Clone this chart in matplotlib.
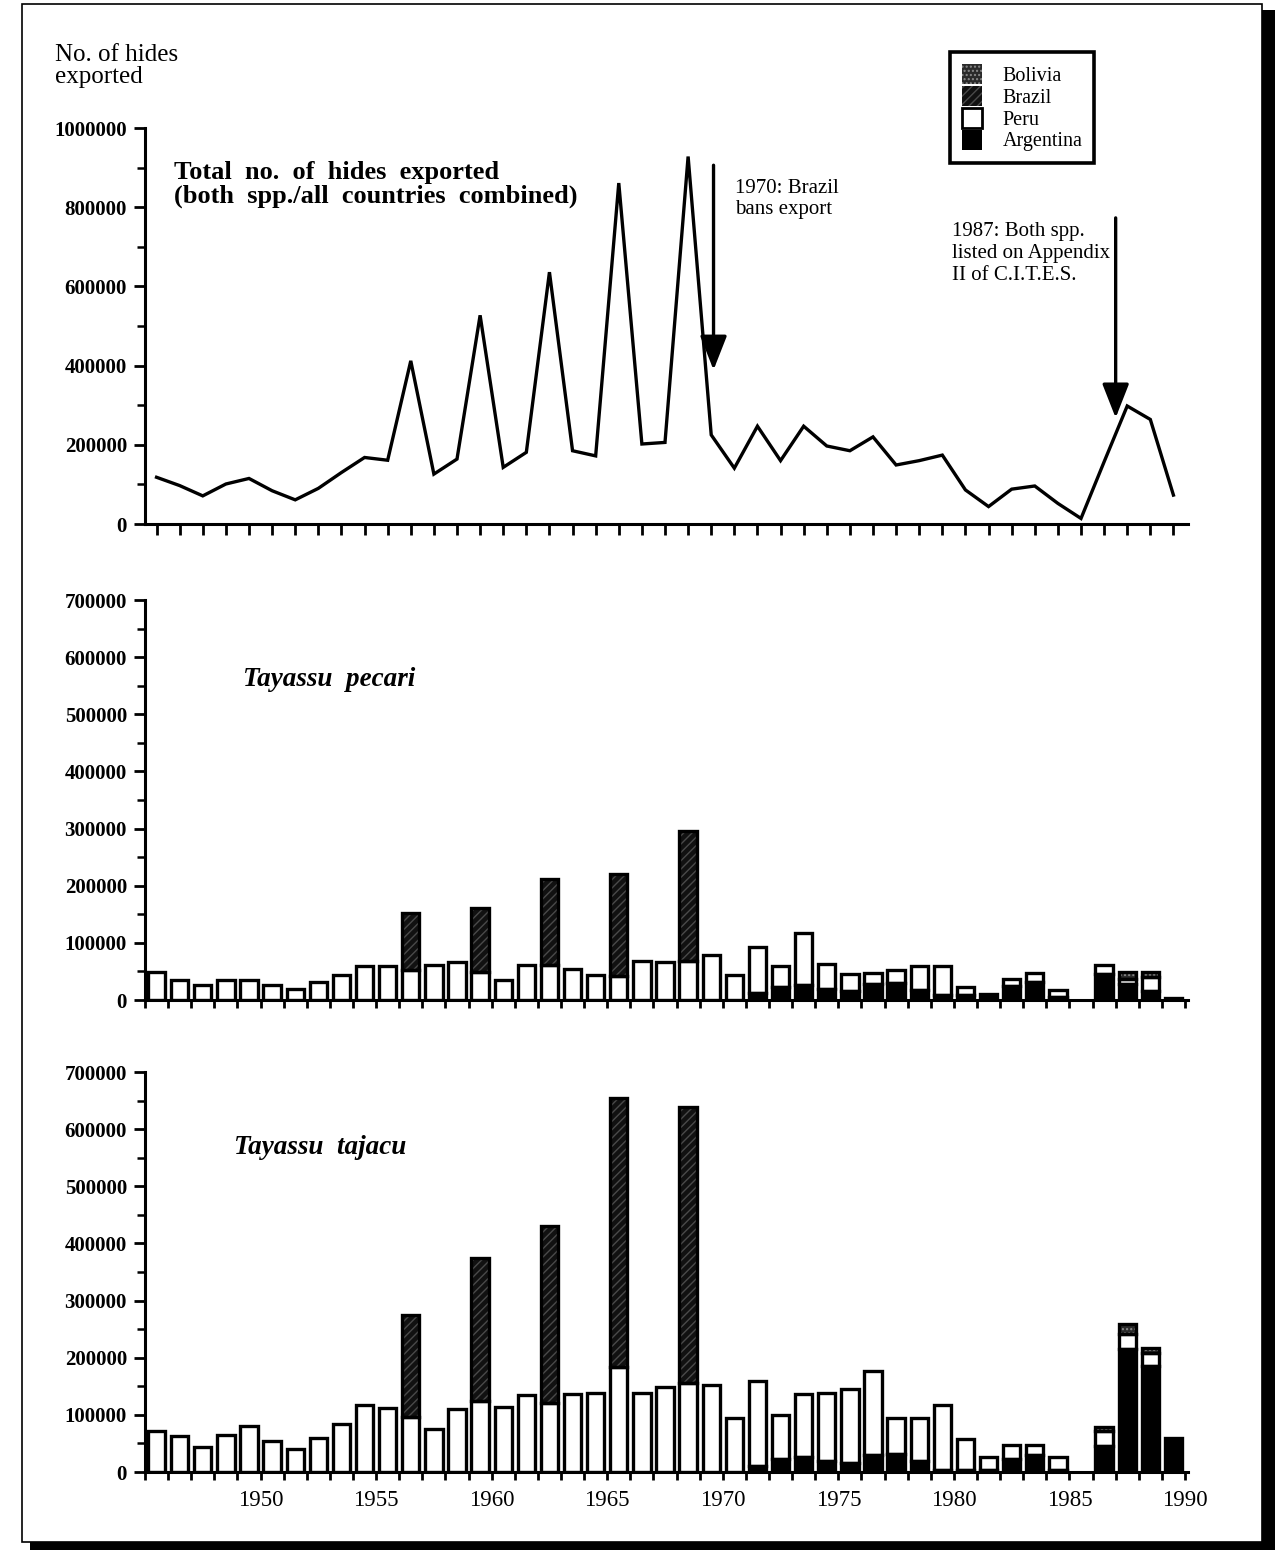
import matplotlib
matplotlib.use("Agg")
import matplotlib.pyplot as plt
from matplotlib.patches import Patch, Rectangle
import numpy as np

plt.rcParams['font.family'] = ['Liberation Serif', 'DejaVu Serif']
plt.rcParams['hatch.linewidth'] = 1.0

# ---------------- data ----------------
years = list(range(1945, 1990))  # 45 years

total_hides = [118000, 97000, 71000, 101000, 115000, 84000, 61000, 90000, 130000, 168000,
               161000, 412000, 126000, 164000, 527000, 143000, 181000, 636000, 185000, 172000,
               861000, 202000, 206000, 928000, 225000, 141000, 247000, 160000, 247000, 197000,
               185000, 220000, 149000, 160000, 174000, 86000, 44000, 88000, 96000, 52000,
               14000, 157000, 298000, 264000, 73000]

# Tayassu pecari
pecari_argentina = [0, 0, 0, 0, 0, 0, 0, 0, 0, 0,
                    0, 0, 0, 0, 0, 0, 0, 0, 0, 0,
                    0, 0, 0, 0, 0, 0, 12000, 23000, 27000, 19000,
                    15000, 28000, 30000, 18000, 8000, 8000, 10000, 24000, 32000, 5000,
                    0, 45000, 28000, 15000, 4000]
pecari_peru = [49000, 35000, 27000, 35000, 35000, 27000, 20000, 32000, 44000, 59000,
               59000, 53000, 62000, 66000, 49000, 35000, 62000, 61000, 55000, 44000,
               42000, 69000, 66000, 69000, 79000, 44000, 81000, 37000, 91000, 44000,
               30000, 19000, 22000, 42000, 52000, 14000, 0, 12000, 15000, 13000,
               0, 17000, 9000, 26000, 0]
pecari_brazil = [0, 0, 0, 0, 0, 0, 0, 0, 0, 0,
                 0, 99000, 0, 0, 112000, 0, 0, 150000, 0, 0,
                 178000, 0, 0, 226000, 0, 0, 0, 0, 0, 0,
                 0, 0, 0, 0, 0, 0, 0, 0, 0, 0,
                 0, 0, 0, 0, 0]
pecari_bolivia = [0] * 42 + [12000, 8000, 0]

# Tayassu tajacu
tajacu_argentina = [0, 0, 0, 0, 0, 0, 0, 0, 0, 0,
                    0, 0, 0, 0, 0, 0, 0, 0, 0, 0,
                    0, 0, 0, 0, 0, 0, 10000, 23000, 26000, 19000,
                    16000, 29000, 32000, 19000, 3000, 3000, 3000, 23000, 29000, 3000,
                    0, 45000, 216000, 186000, 60000]
tajacu_peru = [71000, 63000, 44000, 64000, 80000, 55000, 41000, 59000, 84000, 118000,
               112000, 96000, 76000, 110000, 125000, 114000, 134000, 121000, 136000, 139000,
               184000, 139000, 148000, 155000, 153000, 95000, 149000, 76000, 110000, 119000,
               130000, 147000, 63000, 76000, 115000, 55000, 23000, 24000, 18000, 23000,
               0, 27000, 26000, 23000, 0]
tajacu_brazil = [0, 0, 0, 0, 0, 0, 0, 0, 0, 0,
                 0, 179000, 0, 0, 250000, 0, 0, 309000, 0, 0,
                 471000, 0, 0, 484000, 0, 0, 0, 0, 0, 0,
                 0, 0, 0, 0, 0, 0, 0, 0, 0, 0,
                 0, 0, 0, 0, 0]
tajacu_bolivia = [0] * 41 + [6000, 17000, 8000, 0]

countries = ['Bolivia', 'Brazil', 'Peru', 'Argentina']
xtick_label_years = [1950, 1955, 1960, 1965, 1970, 1975, 1980, 1985, 1990]

# ---------------- styles ----------------
STY = {
    'Argentina': dict(fc='black', hc='black', hatch=None),
    'Peru': dict(fc='white', hc='black', hatch=None),
    'Brazil': dict(fc='#111111', hc='#4a4a4a', hatch='////'),
    'Bolivia': dict(fc='#2a2a2a', hc='#8a8a8a', hatch='....'),
}

W, H = 1275, 1550
fig = plt.figure(figsize=(W / 100, H / 100), dpi=100)


def fr(x0, y_top, x1, y_bot):
    return [x0 / W, 1 - y_bot / H, (x1 - x0) / W, (y_bot - y_top) / H]


XMIN, XMAX = 1945, 1990.13
centers = np.array(years) + 0.5
TICKFS = 15

# ---------------- top: line chart ----------------
ax1 = fig.add_axes(fr(145, 128, 1188, 524))
ax1.plot(centers, total_hides, color='black', lw=2.4, solid_joinstyle='miter')
ax1.set_xlim(XMIN, XMAX)
ax1.set_ylim(0, 1000000)
ax1.set_xticks(centers)
ax1.set_xticklabels([])
ax1.set_yticks(np.arange(0, 1000001, 200000))
ax1.set_yticks(np.arange(100000, 1000000, 200000), minor=True)
ax1.set_yticklabels([str(v) for v in range(0, 1000001, 200000)],
                    fontweight='bold', fontsize=TICKFS)
ax1.tick_params(axis='x', direction='out', length=8, width=2)
ax1.tick_params(axis='y', which='major', direction='out', length=8, width=2, pad=5)
ax1.tick_params(axis='y', which='minor', direction='out', length=6, width=1.8)

ax1.text(1946.24, 916000, 'Total  no.  of  hides  exported\n(both  spp./all  countries  combined)',
         fontsize=19, fontweight='bold', va='top', ha='left', linespacing=1.0)
ax1.annotate('', xy=(1969.6, 389000), xytext=(1969.6, 906000),
             arrowprops=dict(arrowstyle='-|>,head_length=1.4,head_width=0.55', lw=2.4,
                             color='black', mutation_scale=15, shrinkA=0, shrinkB=0))
ax1.annotate('', xy=(1987.0, 268000), xytext=(1987.0, 773000),
             arrowprops=dict(arrowstyle='-|>,head_length=1.4,head_width=0.55', lw=2.4,
                             color='black', mutation_scale=15, shrinkA=0, shrinkB=0))
ax1.text(1970.54, 872000, '1970: Brazil\nbans export', fontsize=15, va='top', ha='left',
         linespacing=1.2)
ax1.text(1979.92, 762000, '1987: Both spp.\nlisted on Appendix\nII of C.I.T.E.S.', fontsize=15,
         va='top', ha='left', linespacing=1.2)


def style_bar_axes(ax, labels):
    ax.set_xlim(XMIN, XMAX)
    ax.set_ylim(0, 700000)
    ax.set_xticks(range(1945, 1991))
    if labels:
        ax.set_xticklabels([str(y) if y in xtick_label_years else '' for y in range(1945, 1991)],
                           fontsize=16.5)
    else:
        ax.set_xticklabels([])
    ax.set_yticks(np.arange(0, 700001, 100000))
    ax.set_yticks(np.arange(50000, 700000, 100000), minor=True)
    ax.set_yticklabels([str(v) for v in range(0, 700001, 100000)], fontweight='bold',
                       fontsize=TICKFS)
    ax.tick_params(axis='x', direction='out', length=6, width=2, pad=7)
    ax.tick_params(axis='y', which='major', direction='out', length=8, width=2, pad=5)
    ax.tick_params(axis='y', which='minor', direction='out', length=6, width=1.8)


def draw_stack(ax, series):
    bottom = np.zeros(len(years))
    for name in ['Argentina', 'Peru', 'Brazil', 'Bolivia']:
        vals = np.array(series[name], dtype=float)
        m = vals > 0
        s = STY[name]
        ax.bar(centers[m], vals[m], bottom=bottom[m], width=0.75, color=s['fc'],
               hatch=s['hatch'], edgecolor=s['hc'], linewidth=0, zorder=2)
        ax.bar(centers[m], vals[m], bottom=bottom[m], width=0.75, fill=False,
               edgecolor='black', linewidth=2.4, zorder=3)
        bottom = bottom + vals


for sp in ['top', 'right']:
    ax1.spines[sp].set_visible(False)
for sp in ['left', 'bottom']:
    ax1.spines[sp].set_linewidth(2.2)

ax2 = fig.add_axes(fr(145, 600, 1188, 1000))
draw_stack(ax2, {'Argentina': pecari_argentina, 'Peru': pecari_peru,
                 'Brazil': pecari_brazil, 'Bolivia': pecari_bolivia})
style_bar_axes(ax2, False)
ax2.text(1949.26, 560000, 'Tayassu  pecari', fontsize=19.5, fontweight='bold', fontstyle='italic',
         va='center', ha='left')

ax3 = fig.add_axes(fr(145, 1072, 1188, 1472))
draw_stack(ax3, {'Argentina': tajacu_argentina, 'Peru': tajacu_peru,
                 'Brazil': tajacu_brazil, 'Bolivia': tajacu_bolivia})
style_bar_axes(ax3, True)
ax3.text(1948.83, 567000, 'Tayassu  tajacu', fontsize=19.5, fontweight='bold', fontstyle='italic',
         va='center', ha='left')

for ax in [ax2, ax3]:
    for sp in ['top', 'right']:
        ax.spines[sp].set_visible(False)
    for sp in ['left', 'bottom']:
        ax.spines[sp].set_linewidth(2.2)
        ax.spines[sp].set_zorder(4)

# y-axis title
fig.text(55 / W, 1 - 44 / H, 'No. of hides\nexported', fontsize=18, va='top', ha='left',
         linespacing=1.0)

# legend
handles = []
for name in countries:
    s = STY[name]
    if name == 'Peru':
        handles.append(Patch(facecolor='white', edgecolor='black', linewidth=2))
    else:
        handles.append(Patch(facecolor=s['fc'], edgecolor=s['hc'], hatch=s['hatch'], linewidth=0))
leg = fig.legend(handles, countries, loc='upper left', bbox_to_anchor=(950 / W, 1 - 52 / H),
                 fontsize=14.5, frameon=True, fancybox=False, edgecolor='black', framealpha=1,
                 handlelength=1.0, handleheight=1.15, labelspacing=0.0, handletextpad=1.0,
                 borderpad=0.6, borderaxespad=0)
leg.get_frame().set_linewidth(2.6)

# page frame with shadow
fig.add_artist(Rectangle((22 / W, 1 - 1542 / H), (1262 - 22) / W, (1542 - 4) / H,
                         transform=fig.transFigure, fill=False, edgecolor='black', lw=1.2))
fig.add_artist(Rectangle((1262 / W, 0), (W - 1262) / W, 1 - 10 / H,
                         transform=fig.transFigure, facecolor='black', edgecolor='none'))
fig.add_artist(Rectangle((30 / W, 0), (W - 30) / W, (H - 1542) / H,
                         transform=fig.transFigure, facecolor='black', edgecolor='none'))

fig.savefig('out.png', dpi=100)
